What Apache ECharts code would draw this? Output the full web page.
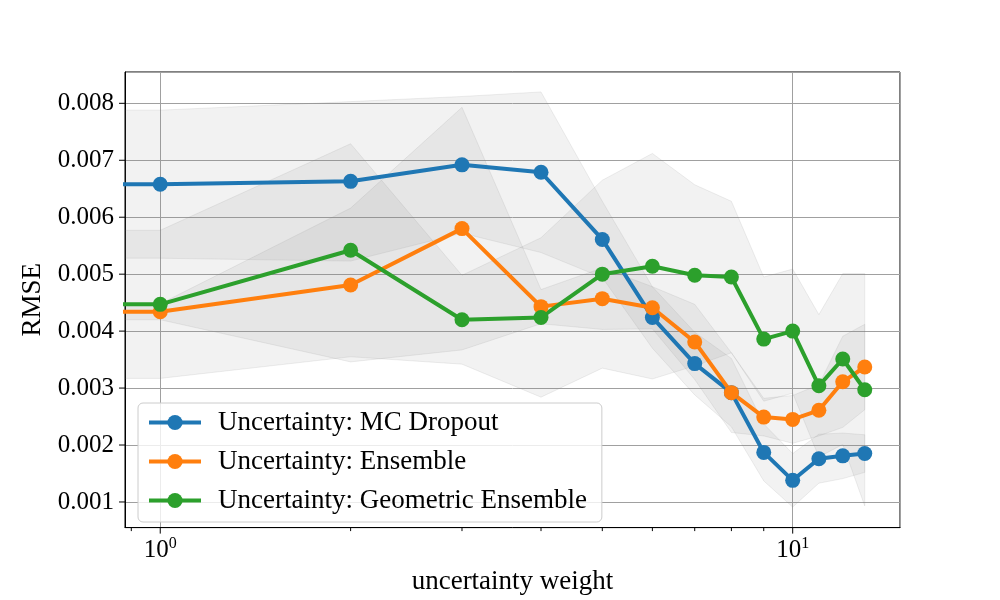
<!DOCTYPE html>
<html><head><meta charset="utf-8">
<script src="https://cdn.jsdelivr.net/npm/echarts@6/dist/echarts.min.js"></script>
<style>html,body{margin:0;padding:0;background:#fff}#c{width:1000px;height:600px}</style>
</head><body><div id="c"></div>
<script>
// ---- data ----
// weight 0 lies at -infinity on the log axis (as in the source plot); its value is not readable, taken equal to weight 1
const weights = [0,1,2,3,4,5,6,7,8,9,10,11,12,13];
const mcMean  = [0.00658,0.00658,0.00663,0.00692,0.00679,0.00561,0.00424,0.00343,0.00292,0.00187,0.00138,0.00176,0.00181,0.00185];
const mcStd   = [0.00130,0.00130,0.00140,0.00120,0.00141,0.00067,0.00054,0.00055,0.00060,0.00050,0.00047,0.00043,0.00040,0.00033];
const ensMean = [0.00434,0.00434,0.00481,0.00580,0.00443,0.00457,0.00441,0.00381,0.00292,0.00249,0.00245,0.00261,0.00311,0.00337];
const ensStd  = [0.00014,0.00014,0.00135,0.00213,0.00030,0.00054,0.00037,0.00066,0.00070,0.00033,0.00042,0.00045,0.00080,0.00075];
const geoMean = [0.00447,0.00447,0.00542,0.00420,0.00424,0.00500,0.00514,0.00498,0.00495,0.00386,0.00400,0.00304,0.00351,0.00297];
const geoStd  = [0.00130,0.00130,0.00187,0.00078,0.00140,0.00165,0.00198,0.00159,0.00133,0.00109,0.00109,0.00125,0.00150,0.00204];
const seriesNames = ['Uncertainty: MC Dropout','Uncertainty: Ensemble','Uncertainty: Geometric Ensemble'];
const xMajorTicks = [1, 10];
const xMinorTicks = [0.9, 2, 3, 4, 5, 6, 7, 8, 9];
const yTicks = [0.001,0.002,0.003,0.004,0.005,0.006,0.007,0.008];

// ---- style ----
const FONT = '"Liberation Serif", "DejaVu Serif", serif';
const colors = ['#1f77b4','#ff7f0e','#2ca02c'];
const X_MIN = 0.8796, X_MAX = 14.78, Y_MIN = 0.00055, Y_MAX = 0.00855;
// non-positive values are clipped to a tiny positive number on the log axis (like matplotlib)
const logX = w => (w > 0 ? w : 1e-6);

function bandSeries(mean, std) {
  return {
    type: 'custom', silent: true, z: 1, clip: true,
    data: weights.map((w, i) => [logX(w), mean[i] - std[i], mean[i] + std[i]]),
    encode: { x: 0, y: [1, 2] },
    renderItem: function (params, api) {
      if (params.dataIndex !== 0) return;
      const up = weights.map((w, i) => api.coord([logX(w), mean[i] + std[i]]));
      const lo = weights.map((w, i) => api.coord([logX(w), mean[i] - std[i]])).reverse();
      return {
        type: 'polygon', shape: { points: up.concat(lo) },
        style: { fill: 'rgba(128,128,128,0.1)', stroke: 'rgba(128,128,128,0.13)', lineWidth: 1 }
      };
    }
  };
}
function xTickSeries(ticks, len) {
  return {
    type: 'custom', silent: true, z: 5, clip: false,
    data: ticks.map(v => [v, Y_MIN]),
    encode: { x: 0, y: 1 },
    renderItem: function (params, api) {
      const p = api.coord([api.value(0), Y_MIN]);
      return { type: 'line', shape: { x1: p[0], y1: p[1], x2: p[0], y2: p[1] + len },
               style: { stroke: '#000', lineWidth: 1 } };
    }
  };
}
function yTickSeries(ticks, len) {
  return {
    type: 'custom', silent: true, z: 5, clip: false,
    data: ticks.map(v => [X_MIN, v]),
    encode: { x: 0, y: 1 },
    renderItem: function (params, api) {
      const p = api.coord([X_MIN, api.value(1)]);
      return { type: 'line', shape: { x1: p[0] - len, y1: p[1], x2: p[0], y2: p[1] },
               style: { stroke: '#000', lineWidth: 1 } };
    }
  };
}
function lineSeries(name, mean, color) {
  return {
    name: name, type: 'line', z: 3, clip: true,
    data: weights.map((w, i) => [logX(w), mean[i]]),
    symbol: 'circle', symbolSize: 15, showSymbol: true,
    lineStyle: { width: 4, color: color },
    itemStyle: { color: color }
  };
}

const chart = echarts.init(document.getElementById('c'), null, { renderer: 'canvas' });
chart.setOption({
  animation: false,
  backgroundColor: '#fff',
  grid: { left: 125, right: 100, top: 72, bottom: 66, show: true, borderColor: '#000', borderWidth: 1, backgroundColor: 'transparent' },
  xAxis: {
    type: 'log', logBase: 10, min: X_MIN, max: X_MAX,
    name: 'uncertainty weight', nameLocation: 'middle', nameGap: 38,
    nameTextStyle: { fontFamily: FONT, fontSize: 27, color: '#000' },
    axisLine: { show: true, lineStyle: { color: '#000', width: 1 } },
    axisTick: { show: false },
    axisLabel: {
      margin: 8, color: '#000',
      formatter: function (v) {
        const e = Math.round(Math.log10(v));
        if (Math.abs(v - Math.pow(10, e)) > 1e-6 * v) return '';
        return '{b|10}{s|' + e + '}';
      },
      rich: {
        b: { fontFamily: FONT, fontSize: 25, color: '#000' },
        s: { fontFamily: FONT, fontSize: 16, color: '#000', padding: [0, 0, 14, 0] }
      }
    },
    splitLine: { show: true, lineStyle: { color: '#a0a0a0', width: 1 } },
    minorTick: { show: false }
  },
  yAxis: {
    type: 'value', min: Y_MIN, max: Y_MAX, splitNumber: 8,
    name: 'RMSE', nameLocation: 'middle', nameGap: 72, nameRotate: 90,
    nameTextStyle: { fontFamily: FONT, fontSize: 27, color: '#000' },
    axisLine: { show: true, lineStyle: { color: '#000', width: 1 } },
    axisTick: { show: false },
    axisLabel: {
      margin: 11, fontFamily: FONT, fontSize: 25, color: '#000',
      formatter: function (v) { return (v > 0.00099 && v < 0.00801) ? v.toFixed(3) : ''; }
    },
    splitLine: { show: true, lineStyle: { color: '#a0a0a0', width: 1 } }
  },
  legend: {
    data: seriesNames, orient: 'vertical', left: 138, top: 403,
    itemWidth: 52, itemHeight: 19, itemGap: 12,
    lineStyle: { width: 4 },
    textStyle: { fontFamily: FONT, fontSize: 27, color: '#000', padding: [0, 0, 0, 12] },
    backgroundColor: 'rgba(255,255,255,0.8)', borderColor: '#cccccc', borderWidth: 1, borderRadius: 5,
    padding: [6, 15, 8, 9]
  },
  series: [
    bandSeries(mcMean, mcStd),
    bandSeries(ensMean, ensStd),
    bandSeries(geoMean, geoStd),
    xTickSeries(xMajorTicks, 6),
    xTickSeries(xMinorTicks, 3.5),
    yTickSeries(yTicks, 6),
    lineSeries(seriesNames[0], mcMean, colors[0]),
    lineSeries(seriesNames[1], ensMean, colors[1]),
    lineSeries(seriesNames[2], geoMean, colors[2])
  ]
});
</script></body></html>
